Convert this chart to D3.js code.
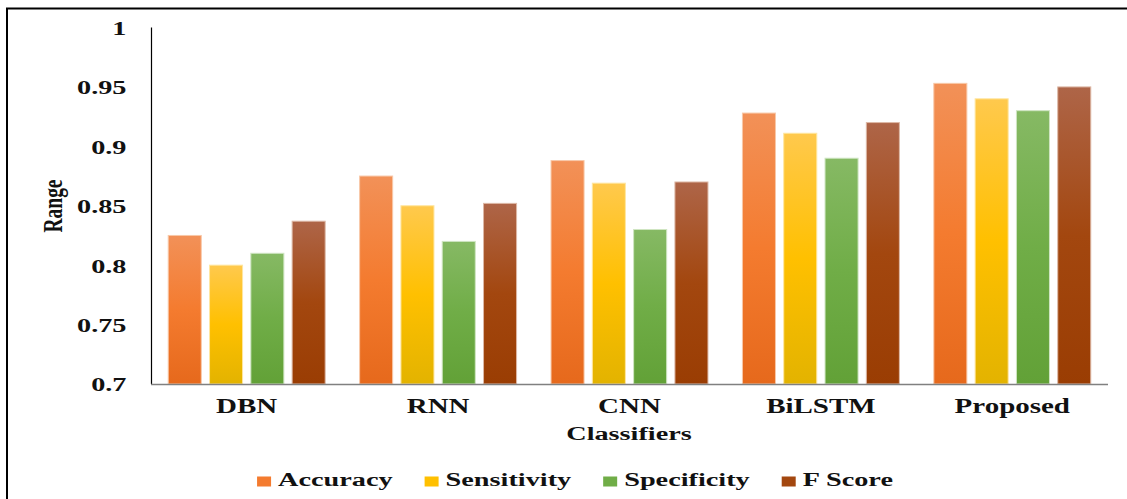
<!DOCTYPE html>
<html>
<head>
<meta charset="utf-8">
<script src="https://cdn.jsdelivr.net/npm/d3@7"></script>
<style>
  html, body { margin: 0; padding: 0; background: #fff; }
  svg { display: block; }
  text { font-family: "Liberation Serif", "Times New Roman", serif; font-weight: bold; fill: #111; }
</style>
</head>
<body>
<svg id="chart" width="1127" height="499"></svg>
<script>
const categories = ["DBN", "RNN", "CNN", "BiLSTM", "Proposed"];
const seriesNames = ["Accuracy", "Sensitivity", "Specificity", "F Score"];
const accuracy    = [0.825, 0.875, 0.888, 0.928, 0.953];
const sensitivity = [0.800, 0.850, 0.869, 0.911, 0.940];
const specificity = [0.810, 0.820, 0.830, 0.890, 0.930];
const fScore      = [0.837, 0.852, 0.870, 0.920, 0.950];
const yTicks = [0.7, 0.75, 0.8, 0.85, 0.9, 0.95, 1];
const yTickLabels = ["0.7", "0.75", "0.8", "0.85", "0.9", "0.95", "1"];

const seriesValues = [accuracy, sensitivity, specificity, fScore];
const colors = [
  { top: "#F29158", mid: "#F47B2F", bot: "#E6691C", stroke: "#F8C8A8" },
  { top: "#FFC94D", mid: "#FFC000", bot: "#E3B300", stroke: "#FFE6A0" },
  { top: "#86B964", mid: "#70AD47", bot: "#62A137", stroke: "#CFE5C2" },
  { top: "#AE6548", mid: "#A3470F", bot: "#9A3D03", stroke: "#DDB8A6" }
];

const SX = 1.45; // horizontal stretch of text as seen in reference
const svg = d3.select("#chart");
const margin = { left: 151, right: 1108, top: 27.5, bottom: 384 };

// frame
svg.append("rect").attr("x", 7).attr("y", 8.5).attr("width", 1140).attr("height", 520)
  .attr("fill", "none").attr("stroke", "#000").attr("stroke-width", 2);

const defs = svg.append("defs");
colors.forEach((c, i) => {
  const g = defs.append("linearGradient").attr("id", "grad" + i)
    .attr("x1", 0).attr("y1", 0).attr("x2", 0).attr("y2", 1);
  g.append("stop").attr("offset", "0%").attr("stop-color", c.top);
  g.append("stop").attr("offset", "50%").attr("stop-color", c.mid);
  g.append("stop").attr("offset", "100%").attr("stop-color", c.bot);
});

const x0 = d3.scaleBand().domain(categories).range([margin.left, margin.right])
  .paddingInner(0.18).paddingOuter(0.09);
const x1 = d3.scaleBand().domain(seriesNames).range([0, x0.bandwidth()])
  .paddingInner(0.2).paddingOuter(0);
const y = d3.scaleLinear().domain([0.7, 1]).range([margin.bottom, margin.top]);

// bars
categories.forEach((cat, ci) => {
  const g = svg.append("g").attr("transform", `translate(${x0(cat)},0)`);
  seriesNames.forEach((s, si) => {
    const v = seriesValues[si][ci];
    g.append("rect")
      .attr("x", x1(s)).attr("y", y(v))
      .attr("width", x1.bandwidth()).attr("height", y(0.7) - y(v))
      .attr("fill", `url(#grad${si})`)
      .attr("stroke", colors[si].stroke).attr("stroke-width", 1);
  });
});

// y axis
const yAxis = d3.axisLeft(y).tickValues(yTicks)
  .tickFormat((d, i) => yTickLabels[i]).tickSize(0).tickPadding(0);
const yg = svg.append("g").attr("transform", `translate(${margin.left},0)`).call(yAxis);
yg.select(".domain").attr("stroke", "#000").attr("stroke-width", 1.2).attr("d", `M0.5,${margin.top}V${margin.bottom}`);
yg.selectAll(".tick text")
  .attr("x", 0).attr("dy", "0.35em")
  .attr("transform", `translate(-24.5,0) scale(${SX},1)`)
  .style("font-size", "19.5px").style("font-family", "Liberation Serif, serif")
  .style("font-weight", "bold").attr("fill", "#111");

// x axis
const xAxis = d3.axisBottom(x0).tickSize(0).tickPadding(0);
const xg = svg.append("g").attr("transform", `translate(0,${margin.bottom})`).call(xAxis);
xg.select(".domain").attr("stroke", "#808080").attr("stroke-width", 1.5)
  .attr("d", `M${margin.left},0.5H${margin.right}`);
xg.selectAll(".tick text")
  .attr("y", 0).attr("dy", 0)
  .attr("transform", `translate(0,29) scale(${SX},1)`)
  .style("font-size", "20px").style("font-family", "Liberation Serif, serif")
  .style("font-weight", "bold").attr("fill", "#111");

// axis titles
svg.append("text").attr("text-anchor", "middle")
  .attr("transform", `translate(629,440) scale(${SX},1)`)
  .style("font-size", "19.5px").text("Classifiers");
svg.append("text").attr("text-anchor", "middle")
  .attr("transform", `translate(62,206) scale(${SX},1) rotate(-90)`)
  .style("font-size", "19.5px").text("Range");

// legend
const legend = svg.append("g");
let lx = 0;
const items = [];
seriesNames.forEach((s, i) => {
  const it = legend.append("g");
  it.append("rect").attr("x", 0).attr("y", -9.5).attr("width", 14).attr("height", 10)
    .attr("fill", colors[i].mid);
  const t = it.append("text").attr("transform", `translate(21,0) scale(${SX},1)`)
    .style("font-size", "19.5px").text(s);
  const w = 21 + t.node().getComputedTextLength() * SX;
  it.attr("transform", `translate(${lx},0)`);
  lx += w + 32;
  items.push(it);
});
const total = lx - 32;
legend.attr("transform", `translate(${575 - total / 2},486)`);
</script>
</body>
</html>
